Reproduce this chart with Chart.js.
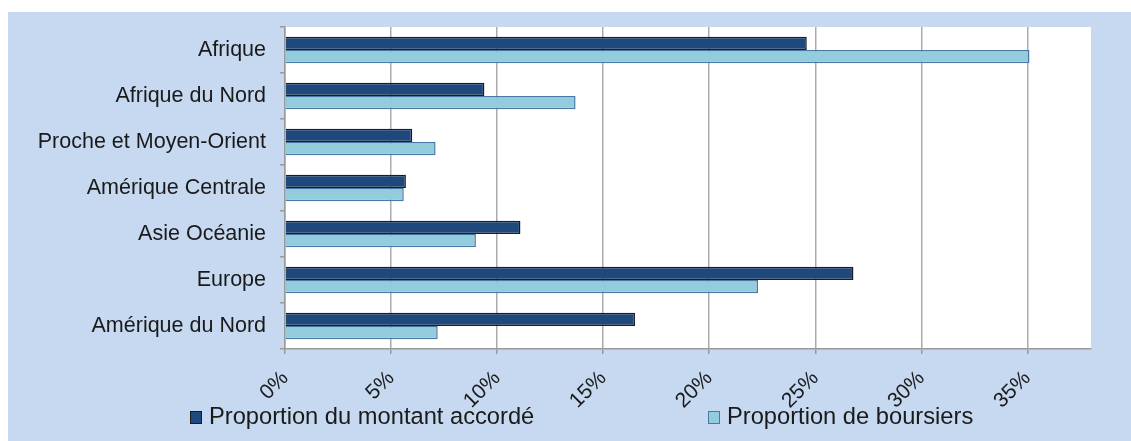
<!DOCTYPE html>
<html lang="fr">
<head>
<meta charset="utf-8">
<title>Répartition par zone géographique</title>
<script src="https://cdn.jsdelivr.net/npm/chart.js@4/dist/chart.umd.min.js"></script>
<style>
  html, body { margin: 0; padding: 0; background: #ffffff; }
  #panel {
    position: absolute; left: 8px; top: 12px;
    width: 1123px; height: 429px;
    background: #C6D9F1;
  }
  #chart { position: absolute; left: 0; top: 0; }
  .legend-item {
    position: absolute; top: 392.5px;
    font-family: "Liberation Sans", Arial, sans-serif;
    font-size: 23.7px; line-height: 23px; color: #1a1a1a;
    white-space: nowrap;
  }
  .legend-item .swatch {
    position: absolute; left: 0; top: 6px;
    width: 10px; height: 11px;
    border: 1.5px solid #1a1a1a;
  }
  .legend-item .text { position: absolute; left: 19px; top: 0; }
</style>
</head>
<body>
<div id="panel">
  <canvas id="chart" width="1123" height="429"></canvas>
</div>
<script>
// Zones géographiques (de haut en bas)
const categories = [
  'Afrique',
  'Afrique du Nord',
  'Proche et Moyen-Orient',
  'Amérique Centrale',
  'Asie Océanie',
  'Europe',
  'Amérique du Nord'
];

// Séries, en pourcentage
const seriesNames = ['Proportion du montant accordé', 'Proportion de boursiers'];
const montantAccorde = [24.6, 9.4, 6.0, 5.7, 11.1, 26.8, 16.5];
const boursiers = [35.1, 13.7, 7.1, 5.6, 9.0, 22.3, 7.2];

// Axe des valeurs
const xMin = 0;
const xMax = 38;
const xStep = 5;

const fillColors = ['#1F497D', '#93CDDD'];
const edgeColors = ['#1c1c1c', '#4A79A8'];
const gridColor = '#ababab';
const axisColor = '#9a9a9a';
const textColor = '#1a1a1a';

// Fond blanc de la zone de tracé
const plotBackground = {
  id: 'plotBackground',
  beforeDraw(chart) {
    const { ctx, chartArea: a } = chart;
    ctx.save();
    ctx.fillStyle = '#ffffff';
    ctx.fillRect(a.left, a.top, a.right - a.left, a.bottom - a.top);
    ctx.restore();
  }
};

const chart = new Chart(document.getElementById('chart'), {
  type: 'bar',
  data: {
    labels: categories,
    datasets: [
      {
        label: seriesNames[0],
        data: montantAccorde,
        backgroundColor: fillColors[0],
        borderColor: edgeColors[0],
        borderWidth: 1.5
      },
      {
        label: seriesNames[1],
        data: boursiers,
        backgroundColor: fillColors[1],
        borderColor: edgeColors[1],
        borderWidth: 1.5
      }
    ]
  },
  options: {
    indexAxis: 'y',
    responsive: false,
    animation: false,
    devicePixelRatio: 1,
    layout: { padding: { top: 15, right: 40, left: 0, bottom: 0 } },
    datasets: {
      bar: { barPercentage: 1, categoryPercentage: 0.58 }
    },
    plugins: {
      legend: { display: false },
      tooltip: { enabled: false }
    },
    scales: {
      x: {
        min: xMin,
        max: xMax,
        afterFit(scale) {
          scale.height = 92;
          scale.paddingLeft = 0;
          scale.paddingRight = 0;
        },
        ticks: {
          stepSize: xStep,
          includeBounds: false,
          minRotation: 45,
          maxRotation: 45,
          padding: 12,
          color: textColor,
          font: { family: '"Liberation Sans", Arial, sans-serif', size: 21 },
          callback: (v) => v + '%'
        },
        grid: {
          color: gridColor,
          lineWidth: 1.5,
          tickLength: 5,
          tickColor: axisColor
        },
        border: { display: true, color: axisColor, width: 1.5 }
      },
      y: {
        afterFit(scale) {
          scale.width = 277;
          scale.paddingTop = 0;
          scale.paddingBottom = 0;
        },
        ticks: {
          padding: 14,
          color: textColor,
          font: { family: '"Liberation Sans", Arial, sans-serif', size: 21.5 }
        },
        grid: {
          drawOnChartArea: false,
          tickLength: 5,
          tickColor: axisColor,
          lineWidth: 1.5
        },
        border: { display: true, color: axisColor, width: 1.5 }
      }
    }
  },
  plugins: [plotBackground]
});

// Légende sous l'axe
const legendLeft = [182, 700];
const panel = document.getElementById('panel');
chart.data.datasets.forEach((ds, i) => {
  const item = document.createElement('div');
  item.className = 'legend-item';
  item.style.left = legendLeft[i] + 'px';
  const sw = document.createElement('span');
  sw.className = 'swatch';
  sw.style.background = ds.backgroundColor;
  sw.style.borderColor = ds.borderColor;
  const tx = document.createElement('span');
  tx.className = 'text';
  tx.textContent = ds.label;
  item.appendChild(sw);
  item.appendChild(tx);
  panel.appendChild(item);
});
</script>
</body>
</html>
